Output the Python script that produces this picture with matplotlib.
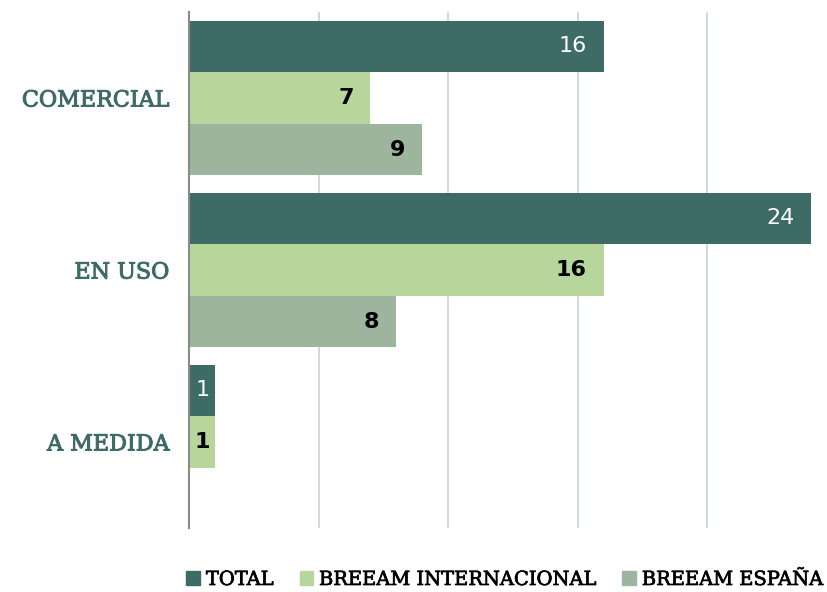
import matplotlib
matplotlib.use("Agg")
import matplotlib.pyplot as plt
import matplotlib.patheffects as pe
import numpy as np
from matplotlib.patches import Patch

categories = ["COMERCIAL", "EN USO", "A MEDIDA"]
series = ["TOTAL", "BREEAM INTERNACIONAL", "BREEAM ESPAÑA"]
total = [16, 24, 1]
internacional = [7, 16, 1]
espana = [9, 8, 0]
colors = ["#3e6b66", "#b7d69c", "#9cb59c"]
label_colors = ["white", "black", "black"]
label_weights = ["normal", "bold", "bold"]

fig = plt.figure(figsize=(8.27, 5.92), dpi=100)
ax = fig.add_axes([189/827, 1-528/592, (811-189)/827, (528-12)/592])

y = np.arange(len(categories))
h = 0.30
for i, (vals, c, lc, lw) in enumerate(zip([total, internacional, espana], colors,
                                          label_colors, label_weights)):
    pos = y + (i - 1) * h
    for p, v in zip(pos, vals):
        if v == 0:
            continue
        ax.barh(p, v, height=h, color=c, zorder=3)
        off = 0.65 if v > 2 else 0.2
        ax.text(v - off, p, str(v), ha="right", va="center", color=lc,
                fontsize=16, family="DejaVu Sans", weight=lw, zorder=4)

ax.set_xlim(0, 24)
ax.set_ylim(len(categories) - 0.5, -0.5)
ax.set_xticks([0, 5, 10, 15, 20])
ax.set_xticklabels([])
ax.tick_params(axis="x", length=0)
ax.grid(axis="x", color="#c9d3d0", linewidth=1.2, zorder=0)
ax.set_yticks(y)
ax.set_yticklabels(categories, family="DejaVu Serif", fontsize=16, color="#3e6b66")
for t in ax.get_yticklabels():
    t.set_path_effects([pe.withStroke(linewidth=0.7, foreground="#3e6b66")])
ax.tick_params(axis="y", length=0, pad=14)
for s in ["top", "right", "bottom"]:
    ax.spines[s].set_visible(False)
ax.spines["left"].set_color("#8a8a8a")
ax.spines["left"].set_linewidth(1.5)
ax.spines["left"].set_zorder(5)

handles = [Patch(color=c, label=s) for c, s in zip(colors, series)]
leg = fig.legend(handles=handles, loc="center", bbox_to_anchor=(505/827, 1-580/592), ncol=3,
                 frameon=False, prop={"family": "DejaVu Serif", "size": 14},
                 handlelength=0.7, handleheight=0.7, handletextpad=0.3, columnspacing=1.3)
for t in leg.get_texts():
    t.set_path_effects([pe.withStroke(linewidth=0.5, foreground="black")])

fig.savefig("out.png", dpi=100)
